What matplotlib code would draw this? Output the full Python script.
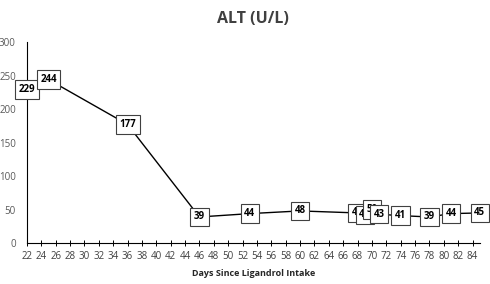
import matplotlib
matplotlib.use("Agg")
from matplotlib import pyplot as plt

plt.rcParams['font.family'] = ['Open Sans', 'DejaVu Sans']

# data
days = [22, 25, 36, 46, 53, 60, 68, 69, 70, 71, 74, 78, 81, 85]
alt = [229, 244, 177, 39, 44, 48, 45, 42, 50, 43, 41, 39, 44, 45]
x_ticks = list(range(22, 85, 2))
y_ticks = [0, 50, 100, 150, 200, 250, 300]

fig = plt.figure(figsize=(4.9, 2.84), dpi=100)
ax = fig.add_axes([0.055, 0.144, 0.924, 0.708])

ax.plot(days, alt, color='black', lw=1.0, zorder=2)

for d, v in zip(days, alt):
    ax.annotate(str(v), (d, v), ha='center', va='center', fontsize=7,
                fontweight='bold', color='black', zorder=3,
                bbox=dict(boxstyle='square,pad=0.38', fc='white', ec='#404040', lw=0.8))

ax.set_xlim(22, 85)
ax.set_ylim(0, 300)
ax.set_xticks(x_ticks)
ax.set_yticks(y_ticks)
ax.tick_params(axis='x', direction='inout', length=5, width=0.7, labelsize=7,
               labelcolor='#404040', pad=3)
ax.tick_params(axis='y', length=0, labelsize=7, labelcolor='#595959', pad=8)

for s in ['top', 'right']:
    ax.spines[s].set_visible(False)
ax.spines['left'].set_color('black')
ax.spines['bottom'].set_color('black')

ax.set_title('ALT (U/L)', fontsize=11.5, fontweight='bold', color='#404040', pad=14)
ax.set_xlabel('Days Since Ligandrol Intake', fontsize=6.5, fontweight='bold',
              color='#262626', labelpad=5)

fig.savefig('out.png', dpi=100)
